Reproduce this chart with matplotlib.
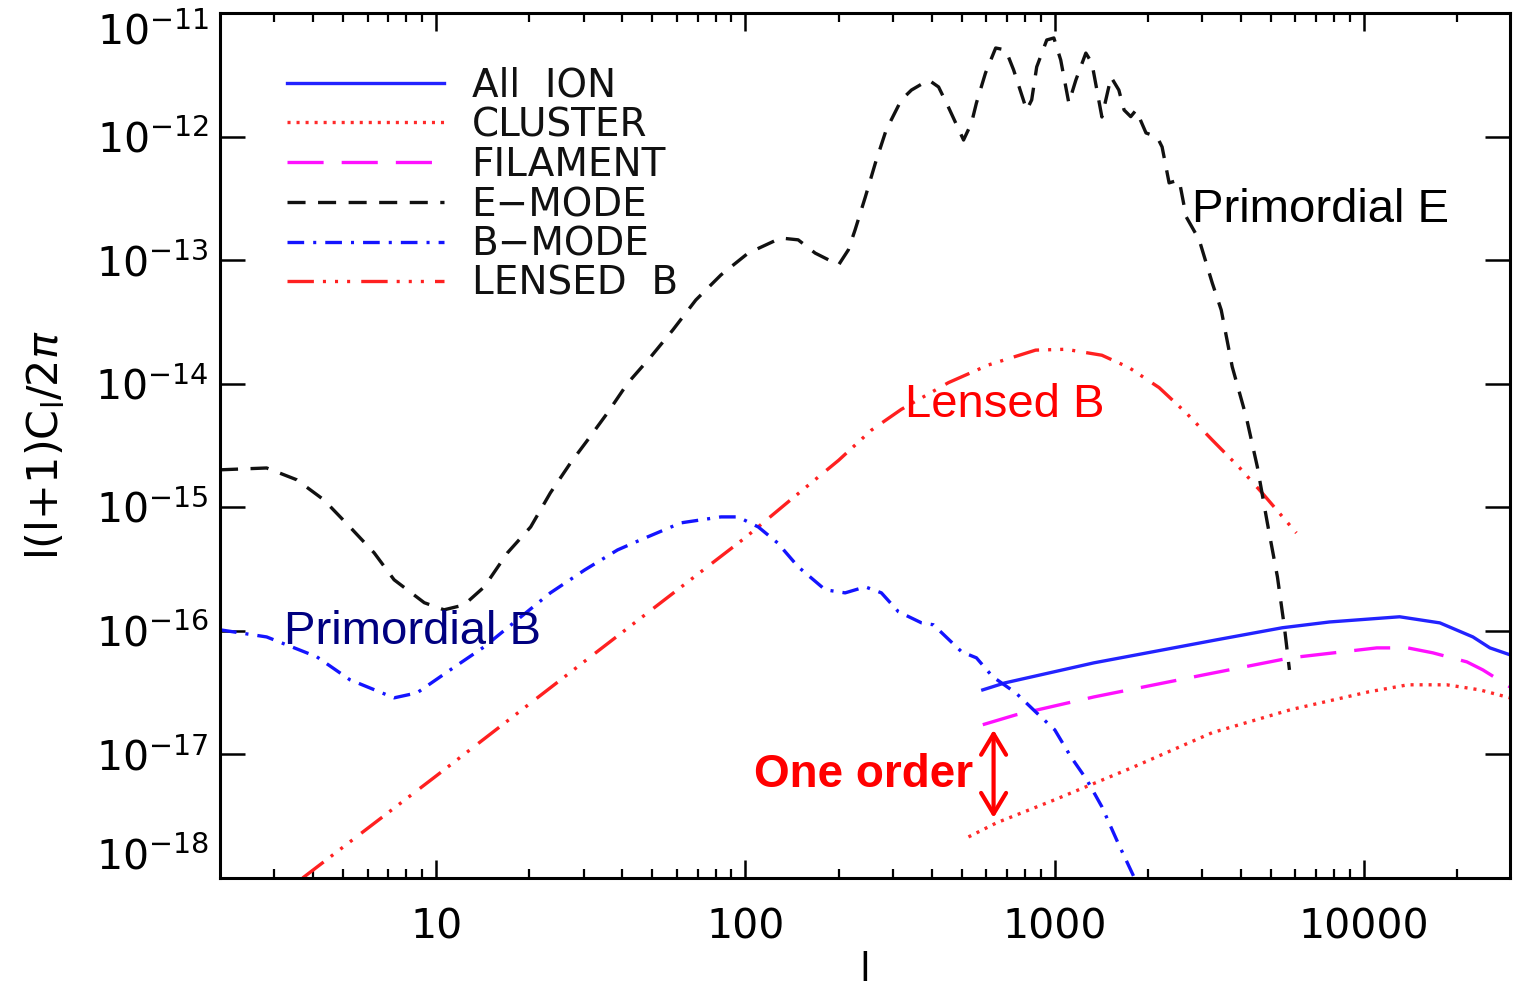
import numpy as np
import matplotlib
matplotlib.use("Agg")
import matplotlib.pyplot as plt
from matplotlib.ticker import FixedLocator, FixedFormatter, NullFormatter

plt.rcParams["lines.scale_dashes"] = False
plt.rcParams["mathtext.fontset"] = "dejavusans"
plt.rcParams["font.family"] = ["DejaVu Sans"]

# ---- band powers l(l+1)C_l/2pi ----
ell_emode = [2.0, 2.83, 3.54, 4.33, 5.26, 6.30, 7.31, 9.15, 10.6, 12.3, 14.3, 17.0,
             20.2, 23.4, 27.2, 30.9, 35.8, 41.6, 49.4, 58.2, 69.1, 83.3, 102, 130,
             148, 168, 200, 215, 226, 244, 263, 285, 319, 344, 391, 421, 453, 507,
             538, 558, 597, 644, 694, 736, 811, 842, 874, 942, 993, 1045, 1110,
             1170, 1260, 1318, 1420, 1520, 1611, 1675, 1760, 1832, 1972, 2142,
             2223, 2342, 2523, 2660, 2930, 3228, 3452, 3747, 4159, 4518, 4866,
             5245, 5523, 5737]
cl_emode = [2.01e-15, 2.08e-15, 1.67e-15, 1.15e-15, 6.93e-16, 4.28e-16, 2.59e-16,
            1.69e-16, 1.48e-16, 1.62e-16, 2.27e-16, 4.28e-16, 6.93e-16, 1.31e-15,
            2.29e-15, 3.51e-15, 5.81e-15, 1.01e-14, 1.65e-14, 2.72e-14, 4.76e-14,
            7.59e-14, 1.14e-13, 1.51e-13, 1.46e-13, 1.14e-13, 9.15e-14, 1.21e-13,
            1.75e-13, 3.24e-13, 6.11e-13, 1.13e-12, 1.98e-12, 2.38e-12, 2.87e-12,
            2.52e-12, 1.73e-12, 9.38e-13, 1.29e-12, 1.87e-12, 3.27e-12, 5.21e-12,
            5.02e-12, 3.46e-12, 1.64e-12, 1.98e-12, 3.66e-12, 6.05e-12, 6.28e-12,
            4.17e-12, 1.87e-12, 2.87e-12, 4.74e-12, 3.94e-12, 1.44e-12, 3.03e-12,
            2.38e-12, 1.64e-12, 1.45e-12, 1.64e-12, 1.07e-12, 9.93e-13, 8.24e-13,
            4.22e-13, 4.46e-13, 2.24e-13, 1.46e-13, 6.55e-14, 3.95e-14, 1.37e-14,
            5.38e-15, 2.12e-15, 7.48e-16, 2.74e-16, 1.08e-16, 4.83e-17]

ell_bmode = [2.0, 2.83, 4.11, 5.26, 7.31, 8.67, 11.1, 14.3, 18.3, 23.4, 30.2, 38.6,
             45.8, 61.8, 83.3, 94.6, 110, 127, 148, 181, 210, 244, 275, 312, 371,
             405, 500, 558, 630, 748, 867, 1000, 1127, 1270, 1420, 1600, 1803, 1850]
cl_bmode = [1.02e-16, 8.93e-17, 6.17e-17, 4.02e-17, 2.87e-17, 3.15e-17, 4.83e-17,
            7.43e-17, 1.23e-16, 2.03e-16, 3.11e-16, 4.52e-16, 5.45e-16, 7.48e-16,
            8.36e-16, 8.36e-16, 6.93e-16, 5.15e-16, 3.30e-16, 2.15e-16, 2.03e-16,
            2.27e-16, 2.03e-16, 1.43e-16, 1.16e-16, 1.12e-16, 6.76e-17, 6.05e-17,
            4.25e-17, 3.15e-17, 2.21e-17, 1.58e-17, 9.57e-18, 6.22e-18, 3.77e-18,
            1.93e-18, 1.02e-18, 8.0e-19]

ell_lensed = [3.7, 10, 30, 100, 140, 200, 255, 319, 453, 611, 867, 1086, 1420, 1738,
              2174, 2660, 3230, 3950, 4690, 6040]
cl_lensed = [1.0e-18, 6.7e-18, 5.6e-17, 5.7e-16, 1.15e-15, 2.4e-15, 4.2e-15, 6.2e-15,
             1.02e-14, 1.42e-14, 1.87e-14, 1.9e-14, 1.7e-14, 1.35e-14, 9.3e-15,
             5.8e-15, 3.5e-15, 2.1e-15, 1.3e-15, 6.2e-16]

ell_allion = [585, 689, 1338, 3325, 5445, 7730, 11480, 13030, 17580, 22480, 25520, 29630]
cl_allion = [3.33e-17, 3.79e-17, 5.51e-17, 8.45e-17, 1.06e-16, 1.18e-16, 1.27e-16,
             1.30e-16, 1.16e-16, 8.93e-17, 7.28e-17, 6.40e-17]

ell_filament = [585, 748, 1338, 3040, 5780, 10990, 13840, 16680, 21490, 24210, 29630]
cl_filament = [1.74e-17, 2.09e-17, 2.92e-17, 4.41e-17, 6.05e-17, 7.28e-17, 7.28e-17,
               6.64e-17, 5.61e-17, 4.83e-17, 3.52e-17]

ell_cluster = [526, 649, 1000, 1803, 3228, 5780, 10350, 13840, 18510, 23660, 29630]
cl_cluster = [2.15e-18, 2.80e-18, 4.30e-18, 7.94e-18, 1.50e-17, 2.30e-17, 3.21e-17,
              3.66e-17, 3.66e-17, 3.33e-17, 2.87e-17]

x_ticks = [10, 100, 1000, 10000]
x_tick_labels = ["10", "100", "1000", "10000"]
y_exponents = [-18, -17, -16, -15, -14, -13, -12, -11]

# ---- line styles ----
styles = {
    "allion":   dict(color="#2323ff", ls="-"),
    "cluster":  dict(color="#ff2a2a", ls=(0, (2.2, 4.3))),
    "filament": dict(color="#ff10ff", ls=(0, (26, 13))),
    "emode":    dict(color="#111111", ls=(0, (13, 9))),
    "bmode":    dict(color="#1414ff", ls=(0, (12, 6.5, 2.2, 6.5))),
    "lensed":   dict(color="#ff2020", ls=(0, (19, 6.5, 2.2, 6.5, 2.2, 6.5, 2.2, 8))),
}
LW = 2.4

fig = plt.figure(figsize=(15.13, 9.91), dpi=100)
ax = fig.add_axes([220 / 1513, 1 - 878 / 991, 1290 / 1513, 865 / 991])

series = [
    ("allion", ell_allion, cl_allion),
    ("cluster", ell_cluster, cl_cluster),
    ("filament", ell_filament, cl_filament),
    ("lensed", ell_lensed, cl_lensed),
    ("bmode", ell_bmode, cl_bmode),
    ("emode", ell_emode, cl_emode),
]
for key, ell, cl in series:
    st = styles[key]
    ax.plot(ell, cl, color=st["color"], linestyle=st["ls"], lw=LW)

ax.set_xscale("log")
ax.set_yscale("log")
ax.set_xlim(2, 29630)
ax.set_ylim(1e-18, 1e-11)

# x ticks
ax.xaxis.set_major_locator(FixedLocator(x_ticks))
ax.xaxis.set_major_formatter(FixedFormatter(x_tick_labels))
minor = [m * 10 ** d for d in range(0, 5) for m in range(2, 10)]
minor = [v for v in minor if 2 < v < 29630]
ax.xaxis.set_minor_locator(FixedLocator(minor))
ax.xaxis.set_minor_formatter(NullFormatter())

# y ticks
yt = [10.0 ** e for e in y_exponents]
ax.yaxis.set_major_locator(FixedLocator(yt))
ax.yaxis.set_major_formatter(FixedFormatter([r"$\mathregular{10^{%d}}$" % e for e in y_exponents]))
ax.yaxis.set_minor_locator(FixedLocator([]))

ax.tick_params(axis="x", which="major", direction="in", length=13, width=1.8,
               top=True, bottom=True, labelsize=29.5, pad=21)
ax.tick_params(axis="x", which="minor", direction="in", length=6.5, width=1.6,
               top=True, bottom=True)
ax.tick_params(axis="y", which="major", direction="in", length=18, width=1.8,
               left=True, right=True, labelsize=29.5, pad=8)
for sp in ax.spines.values():
    sp.set_linewidth(2.2)

ylabels = ax.get_yticklabels()
ylabels[0].set_verticalalignment("bottom")
ylabels[-1].set_verticalalignment("top")

ax.set_xlabel("l", fontsize=28, labelpad=3)
ax.set_ylabel(r"l(l+1)C$_\mathregular{l}$/2$\pi$", fontsize=31, labelpad=20)

# ---- legend ----
legend_entries = [("allion", "All  ION"), ("cluster", "CLUSTER"), ("filament", "FILAMENT"),
                  ("emode", "E\u2212MODE"), ("bmode", "B\u2212MODE"), ("lensed", "LENSED  B")]
row_y = [0.9191, 0.8740, 0.8277, 0.7815, 0.7353, 0.6902]
for (key, label), yy in zip(legend_entries, row_y):
    st = styles[key]
    ax.plot([0.052, 0.174], [yy, yy], transform=ax.transAxes, color=st["color"],
            linestyle=st["ls"], lw=LW, clip_on=False)
    ax.text(0.195, yy - 0.0162, label, transform=ax.transAxes, fontsize=28,
            va="baseline", ha="left", color="#111111")

# ---- annotations ----
ann_font = ["Liberation Sans", "DejaVu Sans"]
ax.text(2780, 2.55e-13, "Primordial E", fontsize=34, family=ann_font,
        ha="left", va="center", color="black")
ax.text(329, 6.73e-15, "Lensed B", fontsize=34, family=ann_font,
        ha="left", va="center", color="#ff0000")
ax.text(3.21, 9.8e-17, "Primordial B", fontsize=34, family=ann_font,
        ha="left", va="center", color="#000080")
ax.text(546, 6.84e-18, "One order", fontsize=33, family=ann_font, fontweight="bold",
        ha="right", va="center", color="#ff0000")
ax.annotate("", xy=(634, 1.58e-17), xytext=(634, 3.07e-18),
            arrowprops=dict(arrowstyle="<->, head_length=0.5, head_width=0.3",
                            color="#ff0000", lw=3, mutation_scale=30,
                            shrinkA=0, shrinkB=0))

fig.savefig("out.png", dpi=100)
